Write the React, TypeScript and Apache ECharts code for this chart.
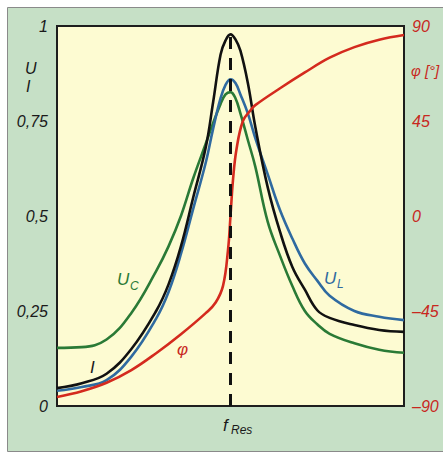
import React, { useEffect, useRef } from "react";
import * as echarts from "echarts";

// common frequency positions (grid units, resonance at 3.5)
const xs = [0, 0.5, 1, 1.5, 2, 2.25, 2.5, 2.75, 3, 3.15, 3.3, 3.4, 3.5, 3.6, 3.7, 3.85, 4, 4.25, 4.5, 4.75, 5, 5.25, 5.5, 6, 6.5, 7];

// Current I (black)
const valI = [0.047, 0.06, 0.085, 0.15, 0.25, 0.32, 0.42, 0.55, 0.68, 0.8, 0.925, 0.962, 0.978, 0.965, 0.935, 0.85, 0.735, 0.576, 0.458, 0.365, 0.306, 0.252, 0.232, 0.213, 0.2, 0.195];

// U_L (blue)
const valUL = [0.04, 0.05, 0.068, 0.13, 0.23, 0.3, 0.4, 0.52, 0.64, 0.73, 0.81, 0.845, 0.86, 0.85, 0.82, 0.77, 0.705, 0.61, 0.515, 0.44, 0.375, 0.33, 0.29, 0.25, 0.235, 0.226];

// U_C (green)
const valUC = [0.153, 0.155, 0.175, 0.245, 0.355, 0.42, 0.5, 0.6, 0.69, 0.745, 0.795, 0.82, 0.826, 0.81, 0.77, 0.7, 0.63, 0.485, 0.395, 0.315, 0.25, 0.215, 0.19, 0.165, 0.148, 0.14];

// phase φ in degrees (red, right axis)
const xsPhi = [0, 0.5, 1, 1.5, 2, 2.5, 3, 3.2, 3.35, 3.45, 3.5, 3.55, 3.62, 3.75, 3.9, 4, 4.5, 5, 5.5, 6, 6.5, 7];
const valPhi = [-85.7, -83, -79, -73, -65, -56, -46, -41, -33, -16, 0, 17, 31.5, 45, 50, 52.5, 60.5, 68, 75, 80, 83.5, 85.7];

// resonance marker
const fRes = 3.5;
const fResTop = 0.978;

const leftTicks = [0, 0.25, 0.5, 0.75, 1];
const rightTicks = [-90, -45, 0, 45, 90];

const zip = (x: number[], y: number[]) => x.map((v, i) => [v, y[i]]);

const FONT = "Liberation Sans";
const RED = "#c8281e";
const TXT = "#1a1a1a";
const GREEN = "#2a7a36";
const BLUE = "#2f6aa0";

export default function App() {
  const ref = useRef<HTMLDivElement>(null);
  useEffect(() => {
    document.body.style.margin = "0";
    const chart = echarts.init(ref.current!, null, { renderer: "svg" });
    const lineS = (name: string, data: number[][], color: string, yAxisIndex = 0) => ({
      name,
      type: "line",
      data,
      yAxisIndex,
      smooth: 0.4,
      showSymbol: false,
      symbol: "none",
      lineStyle: { color, width: 2.6 },
      z: 3,
    });
    const t = (text: string, x: number, y: number, fill: string, size: number) => ({
      type: "text",
      x,
      y,
      z: 10,
      style: { text, fill, font: `italic ${size}px "${FONT}"` },
    });
    chart.setOption({
      animation: false,
      backgroundColor: "#ffffff",
      grid: {
        left: 57,
        top: 26,
        right: 39,
        bottom: 47,
        show: true,
        backgroundColor: "#fdfbd2",
        borderColor: "#1e1e1e",
        borderWidth: 2,
        z: 1,
      },
      xAxis: {
        type: "value",
        min: 0,
        max: 7,
        interval: 1,
        axisLine: { show: false },
        axisTick: { show: false },
        axisLabel: { show: false },
        splitLine: { show: true, lineStyle: { color: "#707070", width: 1.5 } },
      },
      yAxis: [
        {
          type: "value",
          min: 0,
          max: 1,
          interval: 0.25,
          axisLine: { show: false },
          axisTick: { show: false },
          splitLine: { show: true, lineStyle: { color: "#5a5a5a", width: 1.5 } },
          axisLabel: {
            margin: 9,
            color: TXT,
            fontFamily: FONT,
            fontStyle: "italic",
            fontSize: 16,
            formatter: (v: number) => (leftTicks.includes(v) ? String(v).replace(".", ",") : ""),
          },
        },
        {
          type: "value",
          min: -90,
          max: 90,
          interval: 45,
          position: "right",
          axisLine: { show: false },
          axisTick: { show: false },
          splitLine: { show: false },
          axisLabel: {
            margin: 8,
            color: RED,
            fontFamily: FONT,
            fontStyle: "italic",
            fontSize: 16,
            formatter: (v: number) => (rightTicks.includes(v) ? String(v).replace("-", "–") : ""),
          },
        },
      ],
      graphic: [
        {
          type: "rect",
          shape: { x: 7.5, y: 7.5, width: 460, height: 444 },
          style: { fill: "#c6e0c6", stroke: "#8a8a8a", lineWidth: 1 },
          z: -10,
          silent: true,
        },
        t("U", 25, 60, TXT, 16),
        t("I", 26, 78, TXT, 16),
        t("φ [°]", 411, 63, RED, 15),
        t("U", 117, 271, GREEN, 17),
        t("C", 130, 280, GREEN, 12),
        t("U", 324, 270, BLUE, 17),
        t("L", 337, 278, BLUE, 12),
        t("I", 90, 359, TXT, 17),
        t("φ", 177, 341, RED, 17),
        t("f", 223, 417, TXT, 17),
        t("Res", 231, 424, TXT, 12),
      ],
      series: [
        lineS("U_C", zip(xs, valUC), GREEN),
        lineS("U_L", zip(xs, valUL), BLUE),
        lineS("I", zip(xs, valI), "#111111"),
        lineS("φ", zip(xsPhi, valPhi), "#d42a1e", 1),
        {
          name: "fRes",
          type: "line",
          data: [
            [fRes, 0],
            [fRes, fResTop],
          ],
          showSymbol: false,
          symbol: "none",
          lineStyle: { color: "#111", width: 3, type: [12, 9] },
          z: 4,
        },
      ],
    });
    return () => chart.dispose();
  }, []);
  return (
    <div
      ref={ref}
      style={{ position: "absolute", left: 0, top: 0, width: 443, height: 453 }}
    />
  );
}
